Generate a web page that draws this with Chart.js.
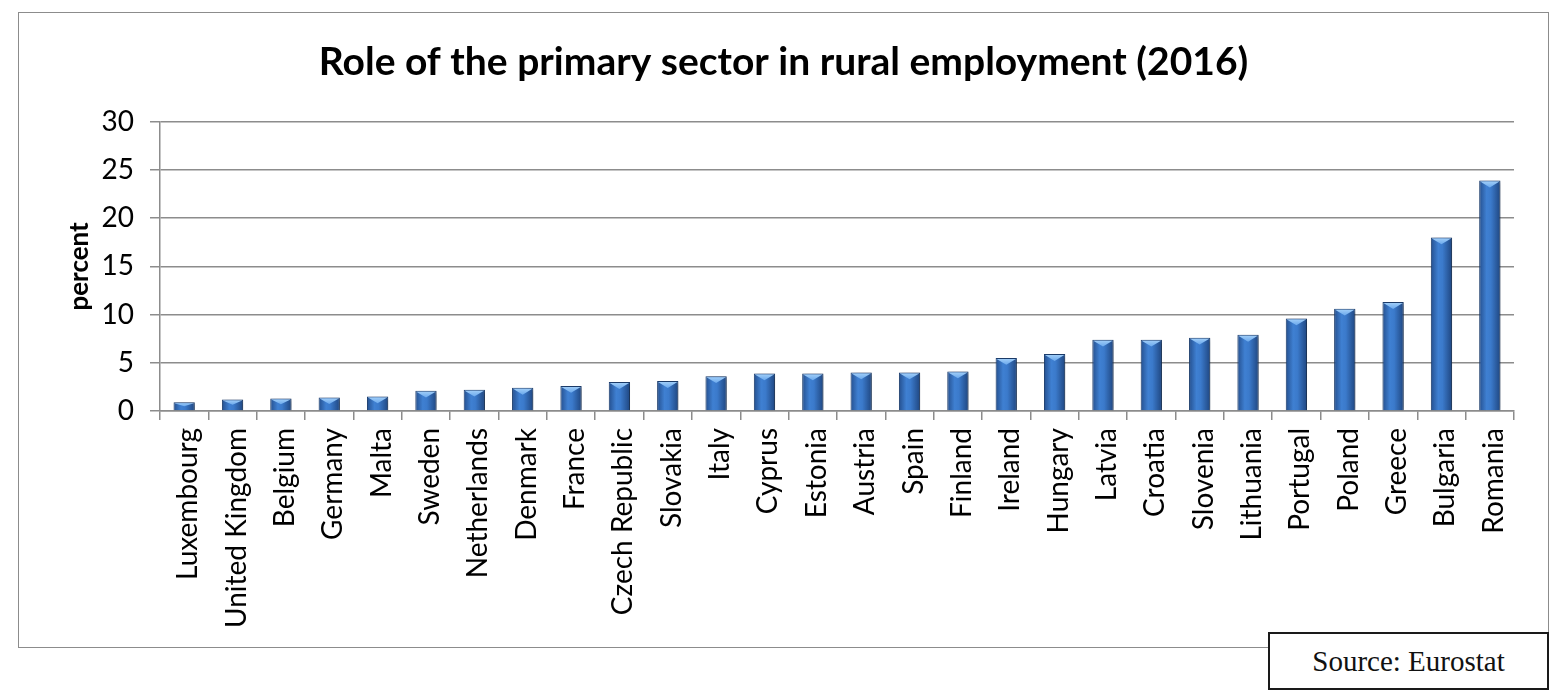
<!DOCTYPE html>
<html>
<head>
<meta charset="utf-8">
<title>Role of the primary sector in rural employment (2016)</title>
<script src="https://cdn.jsdelivr.net/npm/chart.js@4.4.1/dist/chart.umd.min.js"></script>
<style>
  html, body { margin: 0; padding: 0; background: #fff; }
  body { width: 1565px; height: 700px; position: relative; overflow: hidden; }
  #frame {
    position: absolute; left: 18px; top: 12px; width: 1531px; height: 636px;
    border: 1px solid #8c8c8c; box-sizing: border-box;
  }
  #source {
    position: absolute; left: 1268px; top: 632px; width: 281px; height: 58px;
    border: 2px solid #1a1a1a; box-sizing: border-box; background: #fff;
    font-family: "Liberation Serif", serif; font-size: 29px; color: #111;
    display: flex; align-items: center; justify-content: center;
  }
</style>
</head>
<body>
<div id="frame"><canvas id="ruralChart"></canvas></div>
<div id="source">Source: Eurostat</div>

<script>
// Data
var countries = ['Luxembourg', 'United Kingdom', 'Belgium', 'Germany', 'Malta', 'Sweden',
    'Netherlands', 'Denmark', 'France', 'Czech Republic', 'Slovakia', 'Italy', 'Cyprus',
    'Estonia', 'Austria', 'Spain', 'Finland', 'Ireland', 'Hungary', 'Latvia', 'Croatia',
    'Slovenia', 'Lithuania', 'Portugal', 'Poland', 'Greece', 'Bulgaria', 'Romania'];
var primaryShare = [0.9, 1.2, 1.3, 1.4, 1.5, 2.1, 2.2, 2.4, 2.6, 3.0, 3.1, 3.6, 3.9,
    3.9, 4.0, 4.0, 4.1, 5.5, 5.9, 7.4, 7.4, 7.6, 7.9, 9.6, 10.6, 11.3, 18.0, 23.9];
var yTicks = [0, 5, 10, 15, 20, 25, 30];

var BAR_PCT = 0.44;
var FONT = 'Lato';

/**
 * Horizontal "cylinder" gradient for each bar
 */
function barFill(context) {
    var chart = context.chart;
    var xs = chart.scales.x;
    if (!chart.chartArea || !xs) return '#3570bd';
    var cx = xs.getPixelForValue(context.dataIndex);
    var half = xs.width / countries.length * BAR_PCT / 2;
    var g = chart.ctx.createLinearGradient(cx - half, 0, cx + half, 0);
    g.addColorStop(0, '#244f8e');
    g.addColorStop(0.35, '#3f80d2');
    g.addColorStop(0.55, '#3b7acb');
    g.addColorStop(1, '#1f4680');
    return g;
}

// light bevel triangle on top of every bar + soft shadow
var bevelPlugin = {
    id: 'bevel',
    beforeDatasetsDraw: function(chart) {
        var c = chart.ctx;
        c.save();
        c.shadowColor = 'rgba(0,0,0,0.35)';
        c.shadowBlur = 4;
        c.shadowOffsetX = 2;
        c.shadowOffsetY = 1;
    },
    afterDatasetsDraw: function(chart) {
        var c = chart.ctx;
        c.restore();
        var meta = chart.getDatasetMeta(0);
        meta.data.forEach(function(bar) {
            var w = bar.width, x = bar.x, y = bar.y;
            var depth = Math.min(w * 0.32, (bar.base - y) * 0.5);
            c.save();
            var g = c.createLinearGradient(0, y, 0, y + depth);
            g.addColorStop(0, '#a6d2fa');
            g.addColorStop(1, '#6aa8ec');
            c.fillStyle = g;
            c.beginPath();
            c.moveTo(x - w / 2 + 1, y + 1);
            c.lineTo(x + w / 2 - 1, y + 1);
            c.lineTo(x, y + depth);
            c.closePath();
            c.fill();
            c.restore();
        });
    }
};

function initRuralChart() {
    var ctx = document.getElementById('ruralChart').getContext('2d');
    return new Chart(ctx, {
        type: 'bar',
        data: {
            labels: countries,
            datasets: [{
                label: 'percent',
                data: primaryShare,
                backgroundColor: barFill,
                borderColor: '#1d3f70',
                borderWidth: 1,
                barPercentage: BAR_PCT,
                categoryPercentage: 1
            }]
        },
        options: {
            responsive: true,
            maintainAspectRatio: false,
            animation: false,
            // symmetric padding keeps the title centred on the frame
            layout: { padding: { left: 17, right: 17, top: 0, bottom: 0 } },
            plugins: {
                legend: { display: false },
                tooltip: { enabled: false },
                title: {
                    display: true,
                    text: 'Role of the primary sector in rural employment (2016)',
                    color: '#000',
                    font: { family: FONT, size: 39, weight: 'bold', lineHeight: 1.2 },
                    padding: { top: 26, bottom: 36 }
                }
            },
            scales: {
                x: {
                    afterFit: function(scale) { scale.height = 236; },
                    grid: {
                        display: true,
                        offset: true,
                        drawOnChartArea: false,
                        drawTicks: true,
                        tickLength: 9,
                        color: '#8c8c8c',
                        lineWidth: 1.5
                    },
                    border: { display: true, color: '#8c8c8c', width: 1.5 },
                    ticks: {
                        autoSkip: false,
                        minRotation: 90,
                        maxRotation: 90,
                        padding: 8,
                        labelOffset: 4,
                        color: '#000',
                        font: { family: FONT, size: 28 }
                    }
                },
                y: {
                    min: 0,
                    max: 30,
                    afterFit: function(scale) { scale.width = 124; },
                    afterBuildTicks: function(scale) {
                        scale.ticks = yTicks.map(function(v) { return { value: v }; });
                    },
                    grid: {
                        color: '#8c8c8c',
                        lineWidth: 1.5,
                        tickLength: 10
                    },
                    border: { display: true, color: '#8c8c8c', width: 1.5 },
                    ticks: {
                        padding: 16,
                        color: '#000',
                        font: { family: FONT, size: 28 }
                    },
                    title: {
                        display: true,
                        text: 'percent',
                        color: '#000',
                        font: { family: FONT, size: 26, weight: 'bold', lineHeight: 1 },
                        padding: { top: 31, bottom: 0 }
                    }
                },
                // empty right-hand spacer so the plot ends where the reference does
                spacer: {
                    type: 'linear',
                    position: 'right',
                    display: true,
                    afterFit: function(scale) { scale.width = 17; },
                    grid: { display: false },
                    border: { display: false },
                    ticks: { display: false }
                }
            }
        },
        plugins: [bevelPlugin]
    });
}

initRuralChart();
</script>
</body>
</html>
